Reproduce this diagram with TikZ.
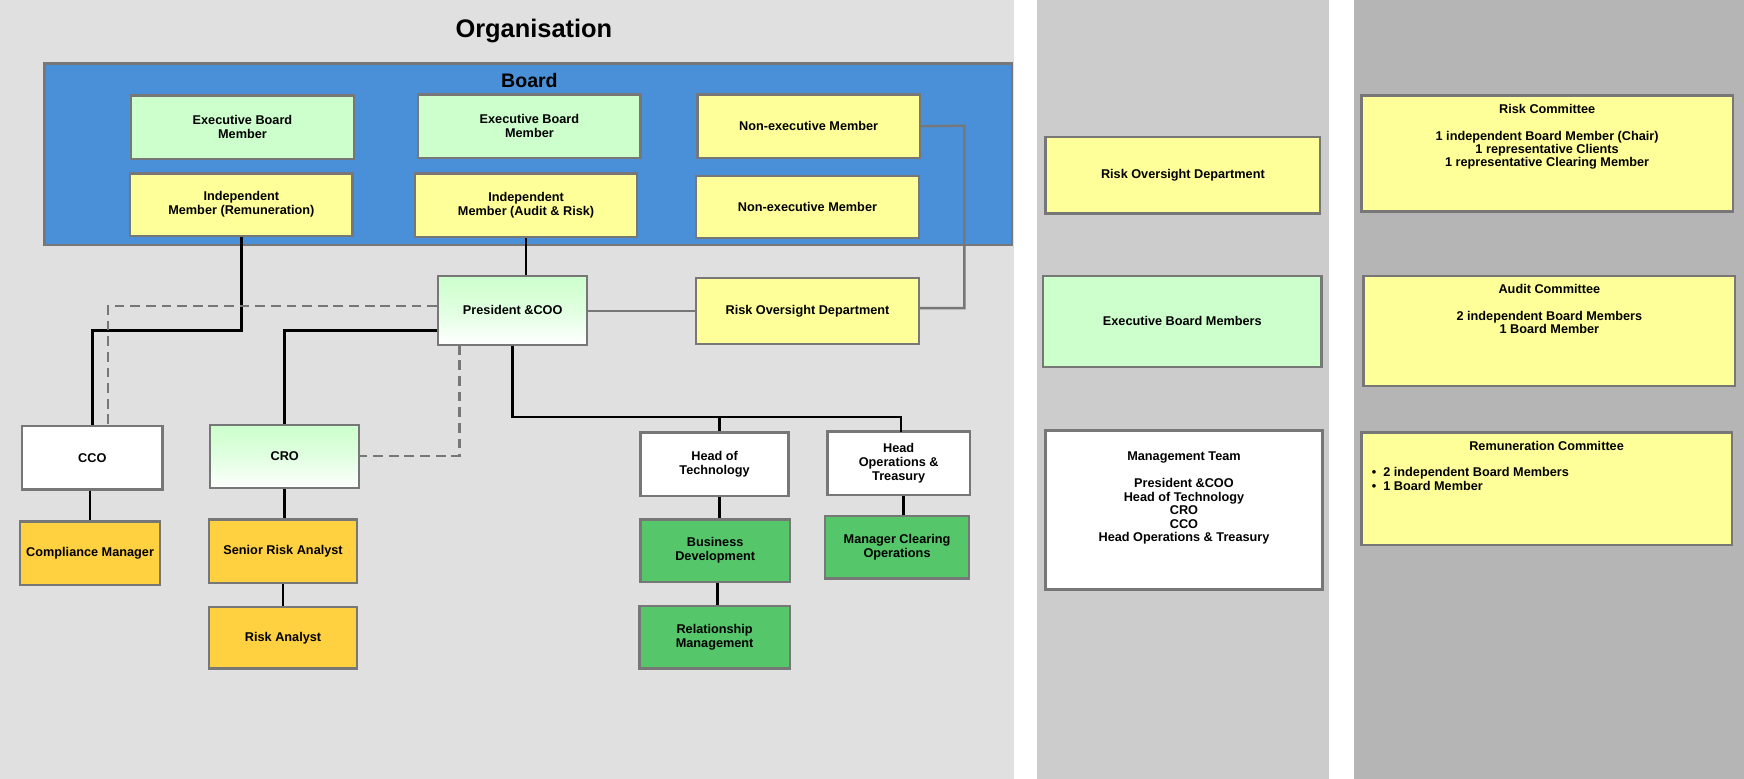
\documentclass[tikz,border=0pt]{standalone}
\usepackage{fontspec}
\setmainfont{Liberation Sans}
\usetikzlibrary{calc}
\definecolor{panelA}{HTML}{E0E0E0}
\definecolor{panelB}{HTML}{CCCCCC}
\definecolor{panelC}{HTML}{B5B5B5}
\definecolor{boardblue}{HTML}{4A90D9}
\definecolor{paleyellow}{HTML}{FFFF99}
\definecolor{palegreen}{HTML}{CCFFCC}
\definecolor{deepgreen}{HTML}{55C76A}
\definecolor{amber}{HTML}{FFD040}
\definecolor{edgegray}{HTML}{777777}
\tikzset{
  box/.style={draw=edgegray,line width=1.2pt,align=center,inner sep=1pt,
    font=\fontsize{6.5}{7.2}\selectfont\bfseries},
  wh/.style 2 args={minimum width=#1*0.02cm,minimum height=#2*0.02cm},
  link/.style={line width=1.4pt,black},
  glink/.style={line width=1.2pt,edgegray},
  dlink/.style={line width=1.2pt,edgegray,dash pattern=on 5pt off 3pt},
  fade/.style={top color=palegreen,bottom color=white,middle color=palegreen!60},
  txt/.style={align=center,inner sep=0pt,font=\fontsize{6.5}{6.9}\selectfont\bfseries}
}
\begin{document}
\begin{tikzpicture}[x=0.02cm,y=-0.02cm]
\useasboundingbox (0,0) rectangle (1568,700);
% panels
\fill[panelA] (0,0) rectangle (912,700);
\fill[white] (912,0) rectangle (932,700);
\fill[panelB] (932,0) rectangle (1195,700);
\fill[white] (1195,0) rectangle (1217,700);
\fill[panelC] (1217,0) rectangle (1568,700);
\node[font=\fontsize{13}{15}\selectfont\bfseries] (title) at (480,28) {Organisation};
% board
\node[box,fill=boardblue,wh={870}{163}] (board) at (475,138.5) {};
\node[txt,font=\fontsize{10}{12}\selectfont\bfseries] (boardlbl) at (476,72) {Board};
\node[box,fill=palegreen,wh={200}{57}] (ebmA) at (218,114.5) {Executive Board\\Member};
\node[box,fill=palegreen,wh={200}{57}] (ebmB) at (476,113.5) {Executive Board\\Member};
\node[box,fill=paleyellow,wh={200}{57}] (nemA) at (727,113.5) {Non-executive Member};
\node[box,fill=paleyellow,wh={200}{56}] (imRem) at (217,184) {Independent\\Member (Remuneration)};
\node[box,fill=paleyellow,wh={200}{57}] (imAud) at (473,184.5) {Independent\\Member (Audit \& Risk)};
\node[box,fill=paleyellow,wh={200}{56}] (nemB) at (726,186) {Non-executive Member};
% management
\node[box,fade,wh={134}{62}] (pres) at (461,279) {President \&COO};
\node[box,fill=paleyellow,wh={200}{59}] (rod) at (726,279.5) {Risk Oversight Department};
\node[box,fill=white,wh={126}{57}] (cco) at (83,411.5) {CCO};
\node[box,fade,wh={134}{57}] (cro) at (256,410.5) {CRO};
\node[box,fill=white,wh={133}{57}] (hot) at (642.5,417.5) {Head of\\Technology};
\node[box,fill=white,wh={128}{57}] (hops) at (808,416.5) {Head\\Operations \&\\Treasury};
\node[box,fill=amber,wh={126}{57}] (cman) at (81,497.5) {Compliance Manager};
\node[box,fill=amber,wh={133}{57}] (sra) at (254.5,495.5) {Senior Risk Analyst};
\node[box,fill=amber,wh={133}{55}] (ra) at (254.5,573.5) {Risk Analyst};
\node[box,fill=deepgreen,wh={134}{56}] (bdev) at (643,495) {Business\\Development};
\node[box,fill=deepgreen,wh={135}{56}] (rman) at (642.5,573) {Relationship\\Management};
\node[box,fill=deepgreen,wh={129}{56}] (mco) at (806.5,492) {Manager Clearing\\Operations};
% solid links
\draw[link] (imRem.south) |- (83,297) -- (cco.north);
\draw[link] (imAud.south) -- (imAud.south |- pres.north);
\draw[link] (pres.west |- 0,297) -| (cro.north);
\draw[link] (pres.south) |- (810,375) -- (810,388);
\draw[link] (647,375) -- (hot.north -| 647,0);
\draw[link] (cco.south -| 81,0) -- (cman.north);
\draw[link] (cro.south) -- (cro.south |- sra.north);
\draw[link] (sra) -- (ra);
\draw[link] (hot.south -| 647,0) -- (bdev.north -| 647,0);
\draw[link] (bdev.south -| 645,0) -- (rman.north -| 645,0);
\draw[link] (hops.south -| 812,0) -- (mco.north -| 812,0);
\draw[glink] (pres.east |- rod.west) -- (rod.west);
\draw[glink] (rod.east |- 0,277) -| (867,113) -- (nemA.east);
% dotted-line reporting
\draw[dlink] (pres.west |- 0,275) -| (97,383);
\draw[dlink] (413,310) |- (cro.east |- 0,410);
% legend column
\node[box,fill=paleyellow,wh={247}{69}] (rodKey) at (1063.5,157.5) {Risk Oversight Department};
\node[box,fill=palegreen,wh={250}{82}] (ebmKey) at (1063,289) {Executive Board Members};
\node[box,fill=white,wh={249}{143}] (mteam) at (1064.5,458.5) {};
\node[txt,anchor=north] (mteamlbl) at (1064.5,406) {Management Team\\[6.9pt]President \&COO\\Head of Technology\\CRO\\CCO\\Head Operations \& Treasury};
% committees
\node[box,fill=paleyellow,wh={334}{104}] (riskc) at (1391,138) {};
\node[txt,anchor=north] (riskclbl) at (1391,93) {Risk Committee\\[6.9pt]1 independent Board Member (Chair)\\1 representative Clients\\1 representative Clearing Member};
\node[box,fill=paleyellow,wh={334}{99}] (auditc) at (1393,297.5) {};
\node[txt,anchor=north] (auditclbl) at (1393,255) {Audit Committee\\[6.9pt]2 independent Board Members\\1 Board Member};
\node[box,fill=paleyellow,wh={333}{101}] (remc) at (1390.5,439.5) {};
\node[txt,anchor=north] (remclbl) at (1390.5,396) {Remuneration Committee};
\node[txt,anchor=north west,align=left] (remclist) at (1233,420) {\textbullet\ \ 2 independent Board Members\\\textbullet\ \ 1 Board Member};
\end{tikzpicture}
\end{document}
